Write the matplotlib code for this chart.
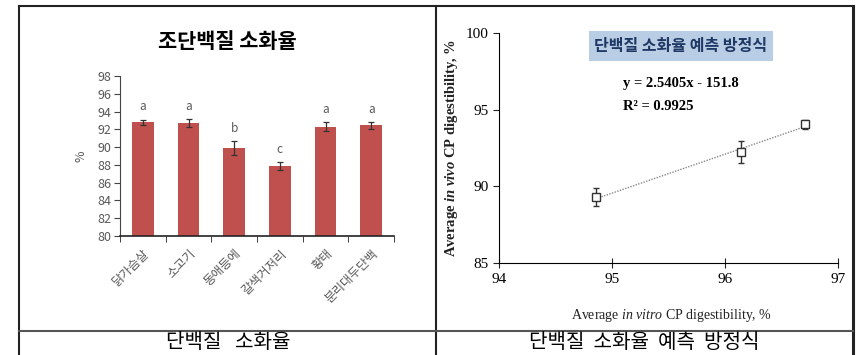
import matplotlib
matplotlib.use("Agg")
import matplotlib.pyplot as plt
from matplotlib.patches import Rectangle
import numpy as np

plt.rcParams['font.family'] = ['Noto Sans CJK KR', 'DejaVu Sans']
plt.rcParams['mathtext.fontset'] = 'custom'
plt.rcParams['mathtext.rm'] = 'Liberation Serif'
plt.rcParams['mathtext.it'] = 'Liberation Serif:italic'
plt.rcParams['mathtext.bf'] = 'Liberation Serif:bold'
plt.rcParams['mathtext.bfit'] = 'Liberation Serif:italic:bold'

# left chart data
categories = ['닭가슴살', '소고기', '동애등에', '갈색거저리', '황태', '분리대두단백']
digest = [92.8, 92.7, 89.9, 87.9, 92.3, 92.45]
digest_err = [0.3, 0.45, 0.75, 0.45, 0.5, 0.4]
letters = ['a', 'a', 'b', 'c', 'a', 'a']

# right chart data
in_vitro = [94.86, 96.14, 96.71]
in_vivo = [89.3, 92.25, 94.05]
in_vivo_err = [0.6, 0.7, 0.3]
trend_x = [94.86, 96.71]
trend_y = [89.2, 93.9]

W, H = 858, 355
fig = plt.figure(figsize=(W / 100, H / 100), dpi=100)

def px_axes(x0, y0, x1, y1):
    # pixel box (top-left origin) -> figure fraction
    return [x0 / W, 1 - y1 / H, (x1 - x0) / W, (y1 - y0) / H]

# background: table frame and captions
bg = fig.add_axes([0, 0, 1, 1])
bg.set_xlim(0, W)
bg.set_ylim(H, 0)
bg.axis('off')
frame = '#222222'
bg.plot([19, 19], [6, H], color=frame, lw=1.5)
bg.plot([19, 853], [6, 6], color=frame, lw=1.5)
bg.plot([853, 853], [6, H], color=frame, lw=2.2)
bg.plot([436, 436], [6, H], color=frame, lw=1.5)
bg.plot([19, 853], [331, 331], color='#555555', lw=1.5)
bg.text(228, 343, '단백질   소화율', ha='center', va='center', fontsize=14.5)
bg.text(644, 343, '단백질  소화율  예측  방정식', ha='center', va='center', fontsize=14.5)

# ---- left: bar chart
ax1 = fig.add_axes(px_axes(120, 76, 394, 236))
ax1.set_facecolor('none')
x = np.arange(len(categories))
ax1.bar(x, digest, width=0.48, color='#C0504D', zorder=2)
ax1.errorbar(x, digest, yerr=digest_err, fmt='none', ecolor='#333333',
             elinewidth=0.9, capsize=2.5, capthick=0.9, zorder=3)
for i in range(len(categories)):
    ax1.annotate(letters[i], (x[i], digest[i] + digest_err[i]), xytext=(0, 4.5),
                 textcoords='offset points', ha='center', va='bottom',
                 fontsize=8.5, color='#595959')
ax1.set_xlim(-0.5, len(categories) - 0.5)
ax1.set_ylim(80, 98)
ax1.set_yticks(np.arange(80, 99, 2))
ax1.set_xticks(x)
ax1.set_xticklabels(categories, rotation=45, ha='right', rotation_mode='anchor',
                    fontsize=9, color='#595959')
ax1.set_xticks(np.arange(-0.5, len(categories), 1), minor=True)
ax1.tick_params(axis='x', which='major', length=0, pad=8)
ax1.tick_params(axis='x', which='minor', length=4, color='#222222')
ax1.tick_params(axis='y', labelsize=9, labelcolor='#595959', length=4,
                color='#444444', pad=2)
for s in ['top', 'right']:
    ax1.spines[s].set_visible(False)
ax1.spines['left'].set_color('#444444')
ax1.spines['bottom'].set_color('#222222')
ax1.spines['bottom'].set_linewidth(1.2)
ax1.set_ylabel('%', fontsize=9, color='#595959', labelpad=7)
bg.text(227, 42, '조단백질 소화율', ha='center', va='center', fontsize=15,
        fontweight='bold')

# ---- right: prediction scatter
ax2 = fig.add_axes(px_axes(499, 33, 838, 263))
ax2.set_facecolor('none')
ax2.plot(trend_x, trend_y, linestyle=(0, (1, 1)), color='#888888', lw=1.0, zorder=2)
ax2.errorbar(in_vitro, in_vivo, yerr=in_vivo_err, fmt='s', mfc='white',
             mec='#333333', ms=6, mew=1.0, ecolor='#333333', elinewidth=1.0,
             capsize=2.5, zorder=3)
ax2.set_xlim(94, 97)
ax2.set_ylim(85, 100)
ax2.set_xticks([94, 95, 96, 97])
ax2.set_yticks([85, 90, 95, 100])
for s in ['top', 'right']:
    ax2.spines[s].set_visible(False)
ax2.tick_params(axis='both', labelsize=11, length=4, color='#222222')
ax2.tick_params(axis='x', direction='inout', length=7, pad=4)
for lab in ax2.get_xticklabels() + ax2.get_yticklabels():
    lab.set_family('Liberation Serif')
ax2.set_xlabel(r'Average $\mathit{in\ vitro}$ CP digestibility, %',
               family='Liberation Serif', fontsize=10, color='#222222')
ax2.xaxis.set_label_coords(0.51, -0.19)
ax2.set_ylabel(r'Average $\mathbfit{in\ vivo}$ CP digestibility, %',
               family='Liberation Serif', fontsize=10.5, fontweight='bold',
               color='#222222')
ax2.yaxis.set_label_coords(-0.115, 0.5)

# equation box and text
bg.add_patch(Rectangle((589, 31), 184, 30, facecolor='#B9CDE5', edgecolor='none'))
bg.text(681, 46, '단백질 소화율 예측 방정식', ha='center', va='center',
        fontsize=11.5, fontweight='bold', color='#1F3864')
bg.text(623, 83, 'y = 2.5405x - 151.8', ha='left', va='center',
        family='Liberation Serif', fontsize=10.5, fontweight='bold')
bg.text(623, 107, 'R² = 0.9925', ha='left', va='center',
        family='Liberation Serif', fontsize=10.5, fontweight='bold')

fig.savefig('out.png', dpi=100)
